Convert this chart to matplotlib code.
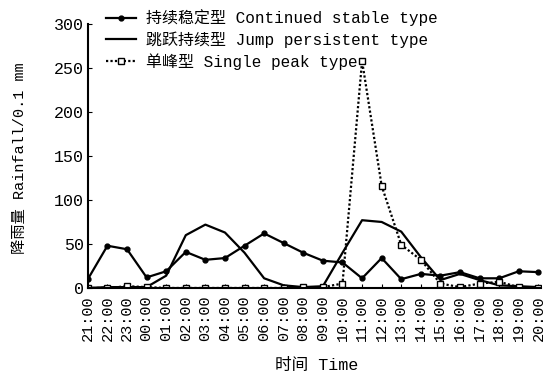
import matplotlib
matplotlib.use("Agg")
import matplotlib.pyplot as plt

plt.rcParams['font.family'] = ['Liberation Mono', 'Noto Sans CJK SC']

times = ["21:00", "22:00", "23:00", "00:00", "01:00", "02:00", "03:00", "04:00",
         "05:00", "06:00", "07:00", "08:00", "09:00", "10:00", "11:00", "12:00",
         "13:00", "14:00", "15:00", "16:00", "17:00", "18:00", "19:00", "20:00"]
continued = [10, 48, 44, 12, 19, 41, 32, 34, 48, 62, 51, 40, 31, 29, 11, 34,
             10, 16, 14, 18, 11, 11, 19, 18]
jump = [0, 1, 1, 1, 14, 60, 72, 63, 40, 11, 3, 1, 2, 40, 77, 75,
        64, 35, 9, 16, 9, 3, 2, 1]
single = [0, 0, 2, 1, 0, 0, 0, 0, 0, 0, 0, 1, 1, 5, 258, 116,
          49, 32, 5, 1, 5, 7, 1, 0]

labels = ["持续稳定型 Continued stable type",
          "跳跃持续型 Jump persistent type",
          "单峰型 Single peak type"]

fig = plt.figure(figsize=(5.49, 3.74), dpi=100)
ax = fig.add_axes([0.160, 0.230, 0.826, 0.706])
x = list(range(len(times)))
ax.plot(x, continued, color='black', lw=1.6, marker='o', ms=3.5, label=labels[0])
ax.plot(x, jump, color='black', lw=1.6, label=labels[1])
ax.plot(x, single, color='black', lw=1.6, ls=(0, (1, 1)), marker='s', ms=4.5,
        mfc='white', mec='black', mew=1.0, label=labels[2])

ax.set_xlim(0, 23.15)
ax.set_ylim(0, 300)
ax.set_yticks([0, 50, 100, 150, 200, 250, 300])
ax.set_xticks(x)
ax.set_xticklabels(times, rotation=90, fontsize=11)
ax.tick_params(axis='y', labelsize=12, direction='in', length=3, pad=3)
ax.tick_params(axis='x', direction='in', length=3, pad=5)
for s in ['top', 'right']:
    ax.spines[s].set_visible(False)
for s in ['left', 'bottom']:
    ax.spines[s].set_linewidth(1.5)

ax.set_ylabel("降雨量 Rainfall/0.1 mm", fontsize=11, va='center')
ax.yaxis.set_label_coords(-0.149, 0.49)
ax.set_xlabel("时间 Time", fontsize=12, va='center')
ax.xaxis.set_label_coords(0.505, -0.295)

ax.legend(loc='upper left', bbox_to_anchor=(0.026, 1.08), frameon=False,
          fontsize=11.5, handlelength=1.9, labelspacing=0.32, borderaxespad=0,
          handletextpad=0.6)

fig.savefig("out.png", dpi=100)
